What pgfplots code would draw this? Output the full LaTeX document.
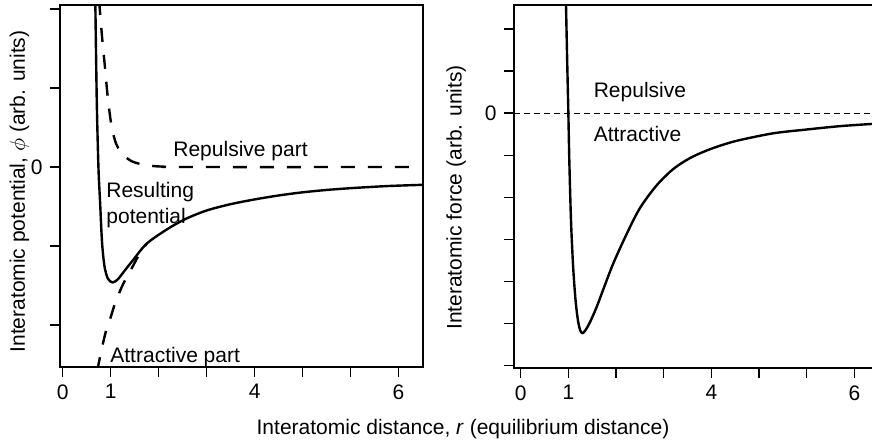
\documentclass[border=0pt]{standalone}
\usepackage{pgfplots}
\pgfplotsset{compat=1.18}
\usepackage{fontspec}
\setmainfont{Liberation Sans}

\pgfplotsset{
  rstyle/.style={
    scale only axis,
    anchor=north west,
    axis line style={line width=0.65pt},
    xtick pos=bottom, ytick pos=left,
    tick align=outside,
    major tick length=5pt,
    every tick/.style={line width=0.65pt, black},
    xtick={0,...,7}, xticklabels={0,1,,,4,,,6},
    tick label style={font=\fontsize{10.5}{12}\selectfont},
    /pgf/number format/assume math mode=true,
    clip=true,
  }
}

\begin{document}
\begin{tikzpicture}
\fontsize{10.5}{12}\selectfont
\path[use as bounding box] (0pt,0pt) rectangle (436pt,-221pt);

% left: potential
\begin{axis}[rstyle, at={(30pt,-2.5pt)}, width=181.5pt, height=181pt,
    xmin=-0.056, xmax=7.51, ymin=-2.53, ymax=2.05,
    ytick={-2,...,2}, yticklabels={,,0,,}]
  % repulsive part
  \addplot[black, line width=1.2pt, dash pattern=on 7pt off 6.5pt, smooth] coordinates {
    (0.76,2.10) (0.82,1.65) (0.88,1.27) (0.94,0.88) (1.02,0.51) (1.11,0.30)
    (1.20,0.20) (1.30,0.13) (1.45,0.07) (1.61,0.04) (1.85,0.015) (2.10,0.005) (2.6,0) (7.28,0)};
  % attractive part
  \addplot[black, line width=1.2pt, dash pattern=on 7pt off 6.5pt, smooth] coordinates {
    (0.72,-2.58) (0.80,-2.34) (0.90,-2.08) (0.99,-1.92) (1.10,-1.71) (1.26,-1.48)
    (1.44,-1.28) (1.60,-1.10) (1.75,-0.97)};
  % resulting potential
  \addplot[black, line width=1.2pt, smooth] coordinates {
    (0.68,2.10) (0.71,0.85) (0.745,0) (0.78,-0.45) (0.82,-0.95) (0.87,-1.25)
    (0.94,-1.41) (1.04,-1.46) (1.15,-1.42) (1.28,-1.32) (1.45,-1.19) (1.75,-0.97)
    (2.17,-0.79) (2.55,-0.66) (3.0,-0.55) (3.5,-0.47) (4.0,-0.41) (4.5,-0.36)
    (5.0,-0.32) (5.6,-0.285) (6.2,-0.26) (6.8,-0.24) (7.51,-0.225)};
\end{axis}

% right: force
\begin{axis}[rstyle, at={(257pt,-2.5pt)}, width=180pt, height=181.5pt,
    xmin=-0.14, xmax=7.41, ymin=-6.06, ymax=2.57,
    ytick={-6,...,2}, yticklabels={,,,,,,0,,}]
  \addplot[black, line width=0.5pt, dash pattern=on 3pt off 2pt] coordinates {(-0.14,0) (7.41,0)};
  \addplot[black, line width=1.2pt, smooth] coordinates {
    (0.95,2.6) (0.975,1.26) (1.0,0) (1.02,-1.12) (1.055,-2.54) (1.10,-3.65)
    (1.15,-4.44) (1.20,-4.92) (1.25,-5.17) (1.30,-5.23) (1.36,-5.16) (1.45,-4.98)
    (1.59,-4.62) (1.73,-4.20) (1.94,-3.58) (2.22,-2.88) (2.50,-2.26) (2.85,-1.72)
    (3.20,-1.33) (3.55,-1.07) (3.90,-0.89) (4.25,-0.75) (4.60,-0.64) (5.30,-0.48)
    (6.0,-0.39) (6.7,-0.31) (7.41,-0.255)};
\end{axis}

% annotations
\node[anchor=base west, inner sep=0pt] at (86.5pt,-78.5pt) {Repulsive part};
\node[anchor=base west, inner sep=0pt] at (53pt,-99pt) {Resulting};
\node[anchor=base west, inner sep=0pt] at (53pt,-112pt) {potential};
\node[anchor=base west, inner sep=0pt] at (55pt,-181.3pt) {Attractive part};
\node[anchor=base west, inner sep=0pt] at (296.7pt,-48.8pt) {Repulsive};
\node[anchor=base west, inner sep=0pt] at (296.7pt,-70.8pt) {Attractive};

% axis titles
\node[anchor=base, rotate=90, inner sep=0pt] at (12.5pt,-95.75pt) {Interatomic potential, $\phi$ (arb. units)};
\node[anchor=base, rotate=90, inner sep=0pt] at (230.8pt,-98.75pt) {Interatomic force (arb. units)};
\node[anchor=base, inner sep=0pt] at (231.5pt,-217.5pt) {Interatomic distance, \textit{r} (equilibrium distance)};
\end{tikzpicture}
\end{document}
